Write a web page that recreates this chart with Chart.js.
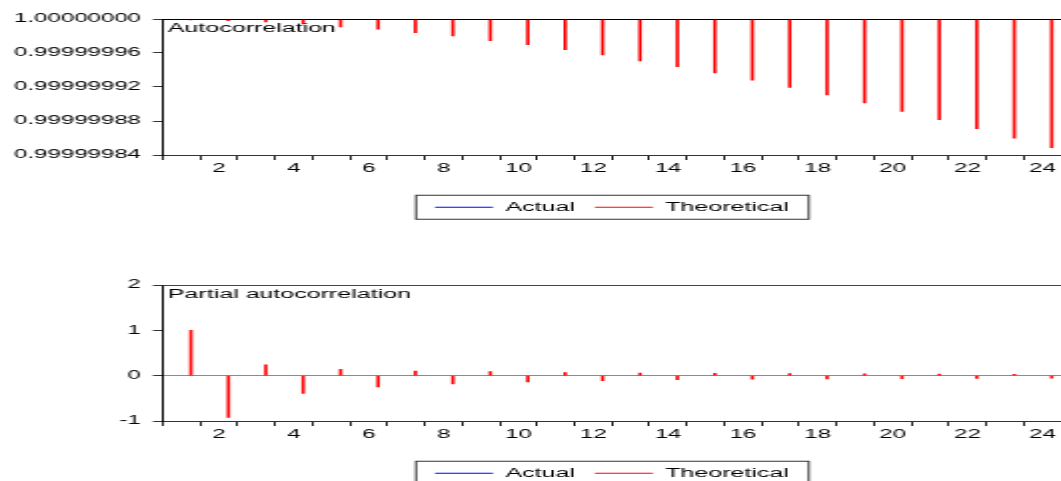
<!DOCTYPE html>
<html>
<head>
<meta charset="utf-8">
<script src="https://cdn.jsdelivr.net/npm/chart.js@4.4.1/dist/chart.umd.min.js"></script>
<style>
  html, body { margin: 0; padding: 0; background: #fff; overflow: hidden; }
  /* the reference is drawn wide and flat, so each chart is laid out at half width and stretched */
  .wrap { position: absolute; left: 0; width: 531px; transform: scaleX(1.99812); transform-origin: 0 0; }
  #top { top: 0; height: 240px; }
  #bottom { top: 240px; height: 250px; }
</style>
</head>
<body>
<div class="wrap" id="top"><canvas id="acfChart" width="531" height="240"></canvas></div>
<div class="wrap" id="bottom"><canvas id="pacfChart" width="531" height="250"></canvas></div>
<script>
const lags = [1, 2, 3, 4, 5, 6, 7, 8, 9, 10, 11, 12, 13, 14, 15, 16, 17, 18, 19, 20, 21, 22, 23, 24];

const acfTicks = [0.99999984, 0.99999988, 0.99999992, 0.99999996, 1.0];
const pacfTicks = [-1, 0, 1, 2];

const theoreticalAcf = [
  0.9999999988, 0.9999999980, 0.9999999965, 0.9999999941, 0.9999999906, 0.9999999879,
  0.9999999839, 0.9999999800, 0.9999999745, 0.9999999698, 0.9999999639, 0.9999999576,
  0.9999999506, 0.9999999439, 0.9999999365, 0.9999999279, 0.9999999196, 0.9999999106,
  0.9999999012, 0.9999998914, 0.9999998816, 0.9999998710, 0.9999998598, 0.9999998486
];
const theoreticalPacf = [
  1.0, -0.92, 0.24, -0.39, 0.14, -0.25, 0.10, -0.18, 0.09, -0.14, 0.066, -0.11,
  0.059, -0.09, 0.05, -0.08, 0.045, -0.07, 0.04, -0.065, 0.035, -0.06, 0.03, -0.055
];
// no actual spikes show in the picture
const actualAcf = [];
const actualPacf = [];

Chart.defaults.font.family = '"Liberation Sans", Arial, sans-serif';
Chart.defaults.font.size = 12;
Chart.defaults.color = '#000';

// top edge of the plot, caption inside it and the box round the legend
const framePlugin = {
  id: 'frame',
  afterDraw(chart, args, opts) {
    const ctx = chart.ctx;
    const a = chart.chartArea;
    ctx.save();
    ctx.strokeStyle = opts.borderColor;
    ctx.lineWidth = 1;
    ctx.beginPath();
    ctx.moveTo(a.left, a.top + 0.5);
    ctx.lineTo(a.right, a.top + 0.5);
    ctx.stroke();

    ctx.fillStyle = '#000';
    ctx.font = '12.5px "Liberation Sans", Arial, sans-serif';
    ctx.textBaseline = 'alphabetic';
    ctx.fillText(opts.caption, a.left + 2.5, a.top + 12.5);

    const boxes = chart.legend.legendHitBoxes;
    const first = boxes[0];
    const last = boxes[boxes.length - 1];
    const mid = first.top + first.height / 2;
    ctx.strokeStyle = '#333';
    ctx.strokeRect(first.left - 9.5, mid - 12, last.left + last.width - first.left + 19.5, 24);
    ctx.restore();
  }
};

function xAxis() {
  return {
    grid: { offset: true, drawOnChartArea: false, tickLength: 5, color: '#222' },
    border: { color: '#333' },
    ticks: {
      autoSkip: false,
      maxRotation: 0,
      padding: 1,
      callback: (v, i) => lags[i] % 2 === 0 ? String(lags[i]) : ''
    },
    afterFit: s => { s.height = 36; }
  };
}

function legendOpts() {
  return {
    position: 'bottom',
    fullSize: false,
    labels: { boxWidth: 29, boxHeight: 1, padding: 10, font: { size: 12.5 }, color: '#000' }
  };
}

new Chart(document.getElementById('acfChart'), {
  type: 'bar',
  data: {
    labels: lags,
    datasets: [
      { label: 'Actual', data: actualAcf, backgroundColor: '#0000ff', base: 1 },
      { label: 'Theoretical', data: theoreticalAcf, backgroundColor: '#ff0000', base: 1 }
    ]
  },
  options: {
    responsive: false,
    animation: false,
    layout: { padding: { top: 19, right: 0, bottom: 16.5, left: 0 } },
    datasets: { bar: { categoryPercentage: 1, barPercentage: 1, maxBarThickness: 1 } },
    scales: {
      x: xAxis(),
      y: {
        min: acfTicks[0],
        max: acfTicks[acfTicks.length - 1],
        afterBuildTicks: s => { s.ticks = acfTicks.map(v => ({ value: v })); },
        ticks: { padding: 6, callback: v => Number(v).toFixed(8) },
        grid: { drawOnChartArea: false, tickLength: 5, color: '#333' },
        border: { color: '#000' },
        afterFit: s => { s.width = 81.5; }
      }
    },
    plugins: {
      legend: legendOpts(),
      tooltip: { enabled: false },
      frame: { caption: 'Autocorrelation', borderColor: '#000' }
    }
  },
  plugins: [framePlugin]
});

new Chart(document.getElementById('pacfChart'), {
  type: 'bar',
  data: {
    labels: lags,
    datasets: [
      { label: 'Actual', data: actualPacf, backgroundColor: '#0000ff' },
      { label: 'Theoretical', data: theoreticalPacf, backgroundColor: '#ff0000' }
    ]
  },
  options: {
    responsive: false,
    animation: false,
    layout: { padding: { top: 45, right: 0, bottom: 0.5, left: 0 } },
    datasets: { bar: { categoryPercentage: 1, barPercentage: 1, maxBarThickness: 1 } },
    scales: {
      x: xAxis(),
      y: {
        min: pacfTicks[0],
        max: pacfTicks[pacfTicks.length - 1],
        afterBuildTicks: s => { s.ticks = pacfTicks.map(v => ({ value: v })); },
        ticks: { padding: 6 },
        grid: {
          tickLength: 5,
          tickColor: '#333',
          color: c => (c.tick && c.tick.value === 0) ? '#8c8c8c' : 'rgba(0,0,0,0)'
        },
        border: { color: '#000' },
        afterFit: s => { s.width = 81.5; }
      }
    },
    plugins: {
      legend: legendOpts(),
      tooltip: { enabled: false },
      frame: { caption: 'Partial autocorrelation', borderColor: '#444' }
    }
  },
  plugins: [framePlugin]
});
</script>
</body>
</html>
